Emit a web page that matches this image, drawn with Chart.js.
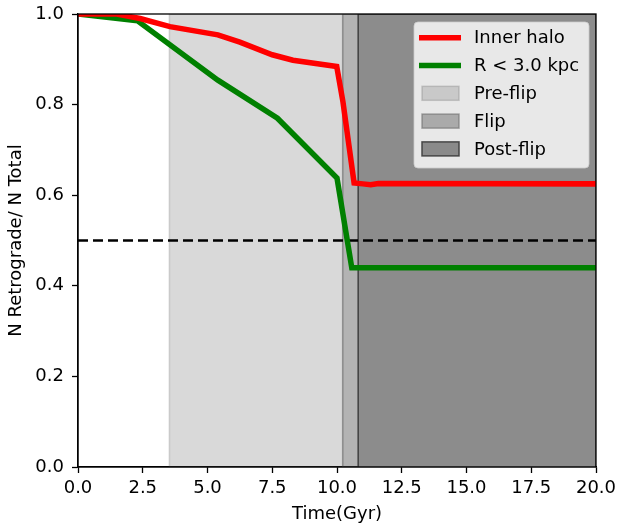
<!DOCTYPE html>
<html>
<head>
<meta charset="utf-8">
<script src="https://cdn.jsdelivr.net/npm/chart.js@4/dist/chart.umd.min.js"></script>
<style>
  html, body { margin: 0; padding: 0; background: #fff; }
  #wrap { width: 620px; height: 527px; }
</style>
</head>
<body>
<div id="wrap"><canvas id="chart" width="620" height="527"></canvas></div>
<script>
// datos
const redTime = [0, 1.5, 2.4, 3.55, 5.4, 6.25, 7.5, 8.3, 9.99, 10.23, 10.66, 11.0, 11.3, 11.6, 20];
const redFrac = [1.0, 1.0, 0.99, 0.972, 0.954, 0.938, 0.91, 0.898, 0.884, 0.806, 0.627, 0.625, 0.623, 0.626, 0.625];
const greenTime = [0, 2.3, 5.4, 7.7, 10.0, 10.57, 20];
const greenFrac = [1.0, 0.985, 0.854, 0.77, 0.638, 0.44, 0.44];
const halfLine = [0.5, 0.5];
const halfTime = [0, 20];

const regionNames = ['Pre-flip', 'Flip', 'Post-flip'];
const regionStart = [3.53, 10.22, 10.82];
const regionEnd = [10.22, 10.82, 20];

const xTicks = [0, 2.5, 5, 7.5, 10, 12.5, 15, 17.5, 20];
const yTicks = [0, 0.2, 0.4, 0.6, 0.8, 1.0];

const FONT = 'DejaVu Sans';
const FS = 18;

function toPoints(xs, ys) {
    return xs.map((x, i) => ({ x: x, y: ys[i] }));
}

const regionFill = ['rgba(128,128,128,0.3)', 'rgba(128,128,128,0.6)', 'rgba(128,128,128,0.9)'];
const regionEdge = ['rgba(128,128,128,0.35)', 'rgba(110,110,110,0.6)', 'rgba(60,60,60,0.9)'];

const regionSets = regionNames.map((name, i) => ({
    label: name,
    data: toPoints([regionStart[i], regionStart[i], regionEnd[i], regionEnd[i]], [0, 1, 1, 0]),
    borderColor: regionEdge[i],
    backgroundColor: regionFill[i],
    borderWidth: 1.5,
    fill: 'origin',
    pointRadius: 0,
    tension: 0,
    order: 10 - i,
    isRegion: true
}));

// marco superior y derecho
const framePlugin = {
    id: 'frame',
    afterDatasetsDraw(chart) {
        const { ctx, chartArea: a } = chart;
        ctx.save();
        ctx.strokeStyle = '#000';
        ctx.lineWidth = 1.3;
        ctx.strokeRect(a.left, a.top, a.right - a.left, a.bottom - a.top);
        ctx.restore();
    }
};

// leyenda dentro del area del grafico, estilo matplotlib
const legendPlugin = {
    id: 'mplLegend',
    afterDraw(chart) {
        const { ctx, chartArea: a } = chart;
        const items = chart.data.datasets.filter(d => d.label && !d.hideInLegend);
        const rowH = 27.8;
        const w = 175, h = 146;
        const x0 = a.right - 7 - w, y0 = a.top + 8;
        ctx.save();
        ctx.beginPath();
        ctx.roundRect(x0, y0, w, h, 4);
        ctx.fillStyle = 'rgba(255,255,255,0.8)';
        ctx.fill();
        ctx.strokeStyle = 'rgba(204,204,204,0.8)';
        ctx.lineWidth = 1;
        ctx.stroke();
        ctx.font = FS + 'px "' + FONT + '"';
        ctx.textBaseline = 'middle';
        ctx.fillStyle = '#000';
        items.forEach((d, i) => {
            const cy = y0 + 15.7 + i * rowH;
            if (d.isRegion) {
                ctx.fillStyle = d.backgroundColor;
                ctx.fillRect(x0 + 8, cy - 7, 37, 14);
                ctx.strokeStyle = d.borderColor;
                ctx.lineWidth = 1.5;
                ctx.strokeRect(x0 + 8, cy - 7, 37, 14);
            } else {
                ctx.strokeStyle = d.borderColor;
                ctx.lineWidth = d.borderWidth;
                ctx.beginPath();
                ctx.moveTo(x0 + 5, cy);
                ctx.lineTo(x0 + 47, cy);
                ctx.stroke();
            }
            ctx.fillStyle = '#000';
            ctx.fillText(d.label, x0 + 60, cy + 1);
        });
        ctx.restore();
    }
};

const ctx = document.getElementById('chart').getContext('2d');
new Chart(ctx, {
    type: 'line',
    data: {
        datasets: [
            {
                label: 'Inner halo',
                data: toPoints(redTime, redFrac),
                borderColor: '#ff0000',
                borderWidth: 5.5,
                pointRadius: 0,
                tension: 0,
                fill: false,
                order: 0
            },
            {
                label: 'R < 3.0 kpc',
                data: toPoints(greenTime, greenFrac),
                borderColor: '#008000',
                borderWidth: 5.5,
                pointRadius: 0,
                tension: 0,
                fill: false,
                order: 1
            },
            {
                label: '',
                hideInLegend: true,
                data: toPoints(halfTime, halfLine),
                borderColor: '#000',
                borderWidth: 2.5,
                borderDash: [10, 5],
                pointRadius: 0,
                fill: false,
                order: 2
            },
            ...regionSets
        ]
    },
    options: {
        responsive: false,
        animation: false,
        layout: { padding: { left: 0, top: 14, right: 24, bottom: 0 } },
        plugins: {
            legend: { display: false },
            tooltip: { enabled: false }
        },
        scales: {
            x: {
                type: 'linear',
                min: 0,
                max: 20,
                afterBuildTicks: s => { s.ticks = xTicks.map(v => ({ value: v })); },
                afterFit: s => { s.height = 60; s.paddingLeft = 0; s.paddingRight = 0; },
                ticks: {
                    color: '#000',
                    font: { family: FONT, size: FS },
                    padding: 5,
                    maxRotation: 0,
                    callback: v => v.toFixed(1)
                },
                grid: { drawOnChartArea: false, tickLength: 6, tickWidth: 1.3, tickColor: '#000' },
                border: { color: '#000', width: 1.3 },
                title: {
                    display: true,
                    text: 'Time(Gyr)',
                    color: '#000',
                    font: { family: FONT, size: FS },
                    padding: { top: 0, bottom: 2 }
                }
            },
            y: {
                type: 'linear',
                min: 0,
                max: 1,
                afterBuildTicks: s => { s.ticks = yTicks.map(v => ({ value: v })); },
                afterFit: s => { s.width = 78; s.paddingTop = 0; s.paddingBottom = 0; },
                ticks: {
                    color: '#000',
                    font: { family: FONT, size: FS },
                    padding: 8,
                    callback: v => v.toFixed(1)
                },
                grid: { drawOnChartArea: false, tickLength: 6, tickWidth: 1.3, tickColor: '#000' },
                border: { color: '#000', width: 1.3 },
                title: {
                    display: true,
                    text: 'N Retrograde/ N Total',
                    color: '#000',
                    font: { family: FONT, size: FS },
                    padding: { top: 5.5, bottom: 0 }
                }
            }
        }
    },
    plugins: [framePlugin, legendPlugin]
});
</script>
</body>
</html>
